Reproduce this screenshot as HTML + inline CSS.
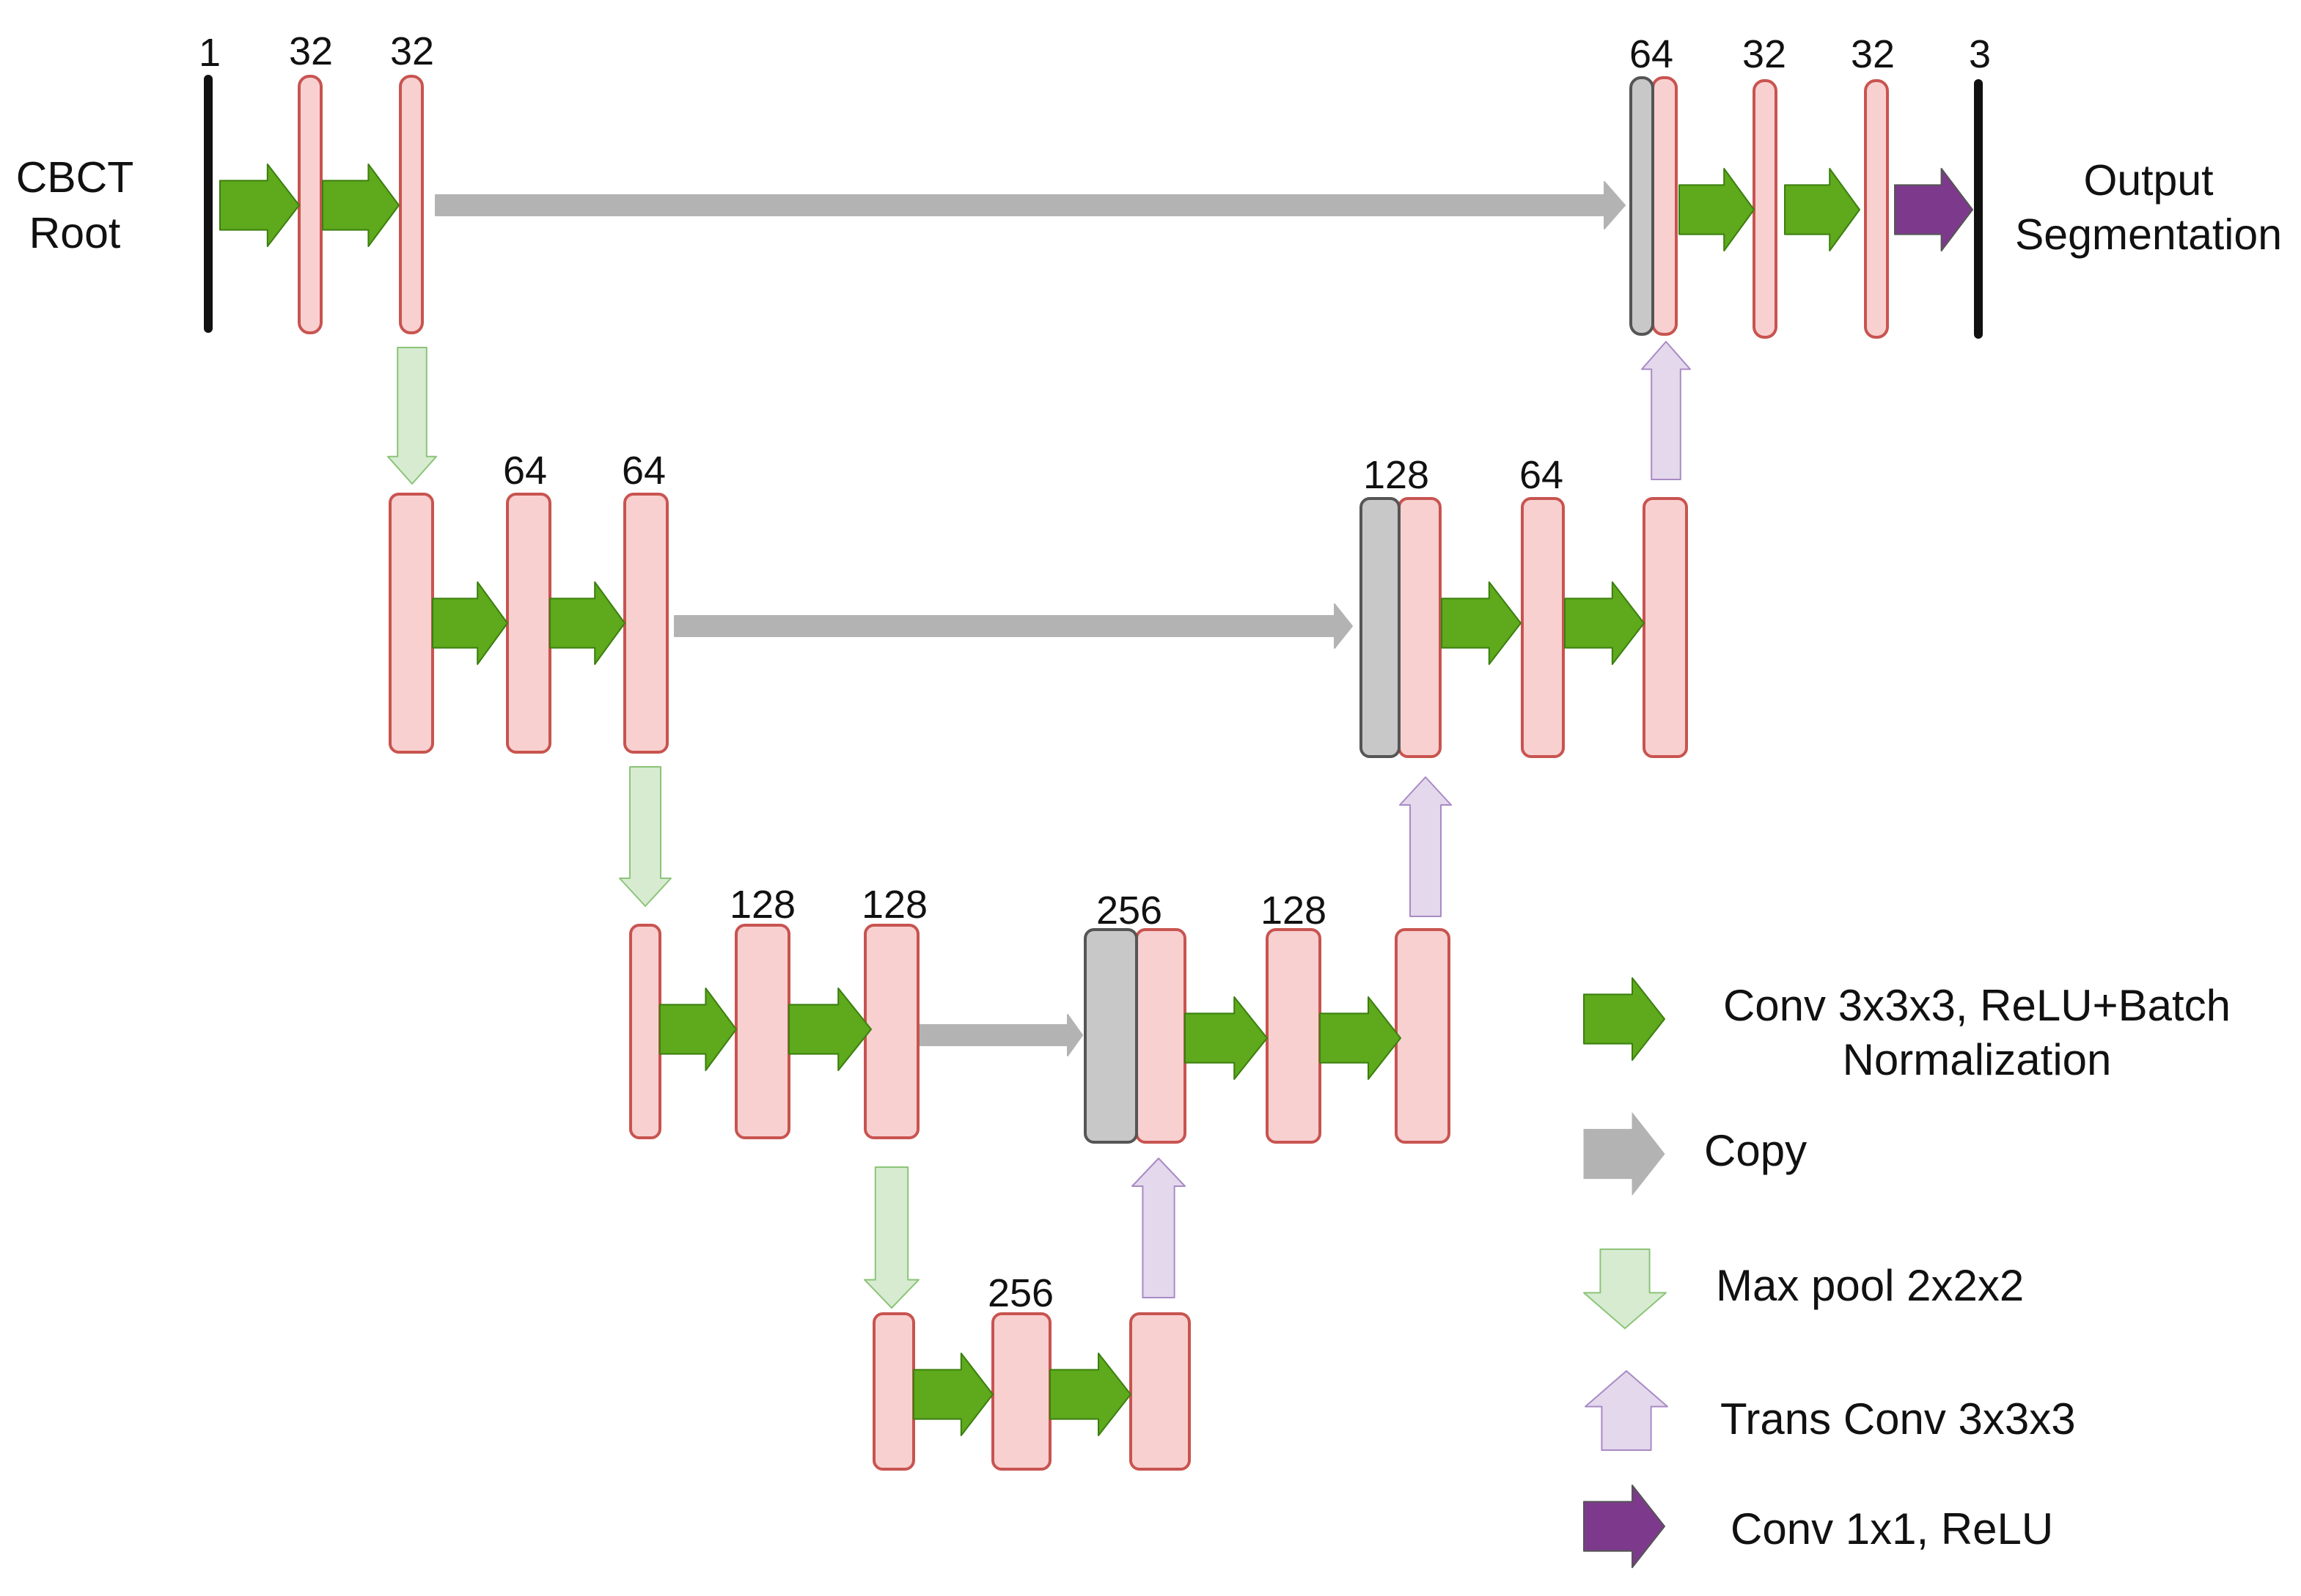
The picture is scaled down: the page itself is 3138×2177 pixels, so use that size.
<!DOCTYPE html>
<html><head><meta charset="utf-8"><style>
html,body{margin:0;padding:0;background:#fff;}
svg{display:block;}
text{font-family:"Liberation Sans",Arial,sans-serif;fill:#111;}
</style></head><body>
<svg width="3138" height="2177" viewBox="0 0 1569 1088.5" xmlns="http://www.w3.org/2000/svg">
<defs>
<polygon id="ra" points="0,-0.3 0.6,-0.3 0.6,-0.5 1,0 0.6,0.5 0.6,0.3 0,0.3" vector-effect="non-scaling-stroke" stroke-linejoin="round"/>
<polygon id="da" points="-0.3,0 0.3,0 0.3,0.8 0.5,0.8 0,1 -0.5,0.8 -0.3,0.8" vector-effect="non-scaling-stroke" stroke-linejoin="round"/>
<polygon id="ua" points="-0.3,1 0.3,1 0.3,0.2 0.5,0.2 0,0 -0.5,0.2 -0.3,0.2" vector-effect="non-scaling-stroke" stroke-linejoin="round"/>
<polygon id="dl" points="-0.3,0 0.3,0 0.3,0.55 0.5,0.55 0,1 -0.5,0.55 -0.3,0.55" vector-effect="non-scaling-stroke" stroke-linejoin="round"/>
<polygon id="ul" points="-0.3,1 0.3,1 0.3,0.45 0.5,0.45 0,0 -0.5,0.45 -0.3,0.45" vector-effect="non-scaling-stroke" stroke-linejoin="round"/>
</defs>

<g fill="#b3b3b3" stroke="#b3b3b3" stroke-width="1" stroke-linejoin="round">
<polygon points="297,133 1094,133 1094,124 1108,140 1094,156 1094,147 297,147"/>
<polygon points="460,420 910,420 910,412 922,427 910,442 910,434 460,434"/>
<polygon points="626,699 728,699 728,692 738,706 728,720 728,713 626,713"/>
</g>

<g fill="#f8d0d0" stroke="#c85450" stroke-width="2">
<rect x="204" y="52" width="15" height="175" rx="7"/>
<rect x="273" y="52" width="15" height="175" rx="7"/>
<rect x="1127" y="53" width="16" height="175" rx="7"/>
<rect x="1196" y="55" width="15" height="175" rx="7"/>
<rect x="1272" y="55" width="15" height="175" rx="7"/>
<rect x="266" y="337" width="29" height="176" rx="6"/>
<rect x="346" y="337" width="29" height="176" rx="6"/>
<rect x="426" y="337" width="29" height="176" rx="6"/>
<rect x="954" y="340" width="28" height="176" rx="6"/>
<rect x="1038" y="340" width="28" height="176" rx="6"/>
<rect x="1121" y="340" width="29" height="176" rx="6"/>
<rect x="430" y="631" width="20" height="145" rx="6"/>
<rect x="502" y="631" width="36" height="145" rx="6"/>
<rect x="590" y="631" width="36" height="145" rx="6"/>
<rect x="775" y="634" width="33" height="145" rx="6"/>
<rect x="864" y="634" width="36" height="145" rx="6"/>
<rect x="952" y="634" width="36" height="145" rx="6"/>
<rect x="596" y="896" width="27" height="106" rx="6"/>
<rect x="677" y="896" width="39" height="106" rx="6"/>
<rect x="771" y="896" width="40" height="106" rx="6"/>
</g>
<g fill="#c8c8c8" stroke="#555" stroke-width="2">
<rect x="1112" y="53" width="15" height="175" rx="7"/>
<rect x="928" y="340" width="26" height="176" rx="6"/>
<rect x="740" y="634" width="35" height="145" rx="6"/>
</g>
<g stroke="#111" stroke-width="6" stroke-linecap="round">
<line x1="142" y1="54" x2="142" y2="224"/>
<line x1="1349" y1="57" x2="1349" y2="228"/>
</g>

<g fill="#5ea91c" stroke="#3b7f0f" stroke-width="2">
<use href="#ra" transform="translate(150,140) scale(54,56)"/>
<use href="#ra" transform="translate(220,140) scale(52,56)"/>
<use href="#ra" transform="translate(1145,143) scale(51,56)"/>
<use href="#ra" transform="translate(1217,143) scale(51,56)"/>
<use href="#ra" transform="translate(295,425) scale(51,56)"/>
<use href="#ra" transform="translate(375,425) scale(51,56)"/>
<use href="#ra" transform="translate(983,425) scale(54,56)"/>
<use href="#ra" transform="translate(1067,425) scale(54,56)"/>
<use href="#ra" transform="translate(450,702) scale(52,56)"/>
<use href="#ra" transform="translate(538,702) scale(56,56)"/>
<use href="#ra" transform="translate(808,708) scale(56,56)"/>
<use href="#ra" transform="translate(900,708) scale(55,56)"/>
<use href="#ra" transform="translate(623,951) scale(54,56)"/>
<use href="#ra" transform="translate(716,951) scale(55,56)"/>
<use href="#ra" transform="translate(1080,695) scale(55,56)"/>
</g>
<g fill="#7d3a8c" stroke="#555" stroke-width="2">
<use href="#ra" transform="translate(1292,143) scale(53,56)"/>
<use href="#ra" transform="translate(1080,1041) scale(55,56)"/>
</g>
<use href="#ra" transform="translate(1080,787) scale(55,56)" fill="#b3b3b3" stroke="#b3b3b3" stroke-width="1"/>

<g fill="#d7ebd1" stroke="#8cc478" stroke-width="2">
<use href="#da" transform="translate(281,237) scale(33,93)"/>
<use href="#da" transform="translate(440,523) scale(35,95)"/>
<use href="#da" transform="translate(608,796) scale(37,96)"/>
<use href="#dl" transform="translate(1108,852) scale(56,54)"/>
</g>
<g fill="#e4d8ec" stroke="#a98ac5" stroke-width="2">
<use href="#ua" transform="translate(1136,233) scale(33,94)"/>
<use href="#ua" transform="translate(972,530) scale(35,95)"/>
<use href="#ua" transform="translate(790,790) scale(36,95)"/>
<use href="#ul" transform="translate(1109,935) scale(56,54)"/>
</g>

<g font-size="27" text-anchor="middle">
<text x="143" y="45">1</text>
<text x="212" y="44">32</text>
<text x="281" y="44">32</text>
<text x="1126" y="46">64</text>
<text x="1203" y="46">32</text>
<text x="1277" y="46">32</text>
<text x="1350" y="46">3</text>
<text x="358" y="330">64</text>
<text x="439" y="330">64</text>
<text x="952" y="333">128</text>
<text x="1051" y="333">64</text>
<text x="520" y="626">128</text>
<text x="610" y="626">128</text>
<text x="770" y="630">256</text>
<text x="882" y="630">128</text>
<text x="696" y="891">256</text>
</g>
<g font-size="29.5" text-anchor="middle">
<text x="51" y="131">CBCT</text>
<text x="51" y="169">Root</text>
<text x="1465" y="133">Output</text>
<text x="1465" y="170">Segmentation</text>
</g>
<g font-size="30">
<text x="1348" y="696" text-anchor="middle">Conv 3x3x3, ReLU+Batch</text>
<text x="1348" y="733" text-anchor="middle">Normalization</text>
<text x="1162" y="795">Copy</text>
<text x="1170" y="887">Max pool 2x2x2</text>
<text x="1173" y="978">Trans Conv 3x3x3</text>
<text x="1180" y="1053">Conv 1x1, ReLU</text>
</g>
</svg>
</body></html>
